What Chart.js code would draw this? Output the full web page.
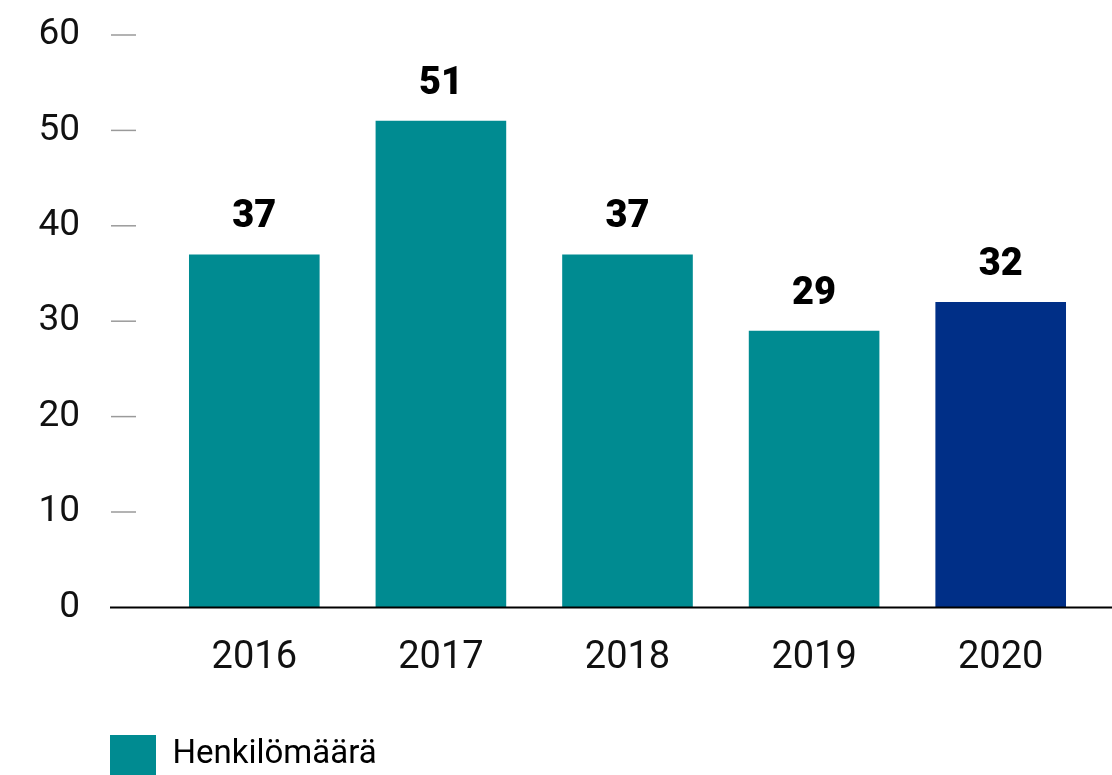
<!DOCTYPE html>
<html>
<head>
<meta charset="utf-8">
<script src="https://cdn.jsdelivr.net/npm/chart.js@4"></script>
<style>
  html, body { margin: 0; padding: 0; background: #fff; }
  #wrap { width: 1112px; height: 775px; }
</style>
</head>
<body>
<div id="wrap"><canvas id="grafico"></canvas></div>
<script>
const vuodet = ['2016', '2017', '2018', '2019', '2020'];
const henkilot = [37, 51, 37, 29, 32];
const sarjanNimi = 'Henkilömäärä';
const yTicks = [0, 10, 20, 30, 40, 50, 60];

const teal = '#008b91';
const navy = '#002f87';

// arvot palkkien yläpuolelle
const arvoPlugin = {
  id: 'arvot',
  afterDatasetsDraw(chart) {
    const ctx = chart.ctx;
    const meta = chart.getDatasetMeta(0);
    ctx.save();
    ctx.font = '900 38px Roboto';
    ctx.fillStyle = '#000';
    ctx.textAlign = 'center';
    ctx.textBaseline = 'alphabetic';
    meta.data.forEach((bar, i) => {
      ctx.fillText(henkilot[i], bar.x, bar.y - 27);
    });
    ctx.restore();
  }
};

// lyhyet viivat y-akselin arvoille ja perusviiva
const akseliPlugin = {
  id: 'akseli',
  afterDraw(chart) {
    const ctx = chart.ctx;
    const y = chart.scales.y;
    const area = chart.chartArea;
    ctx.save();
    ctx.strokeStyle = '#9a9a9a';
    ctx.lineWidth = 1.5;
    yTicks.forEach(v => {
      if (v === 0) return;
      const py = y.getPixelForValue(v);
      ctx.beginPath();
      ctx.moveTo(area.left - 50, py);
      ctx.lineTo(area.left - 25, py);
      ctx.stroke();
    });
    const y0 = y.getPixelForValue(0);
    ctx.strokeStyle = '#000';
    ctx.lineWidth = 2;
    ctx.beginPath();
    ctx.moveTo(area.left - 51, y0);
    ctx.lineTo(chart.width, y0);
    ctx.stroke();
    ctx.restore();
  }
};

// y-akselin tekstit oikealle tasattuna vasemmalle puolelle
const yFontSize = 37;
const yLabelRight = -81;

new Chart(document.getElementById('grafico'), {
  type: 'bar',
  data: {
    labels: vuodet,
    datasets: [{
      label: sarjanNimi,
      data: henkilot,
      backgroundColor: [teal, teal, teal, teal, navy],
      categoryPercentage: 0.7,
      barPercentage: 1.0
    }]
  },
  options: {
    responsive: true,
    maintainAspectRatio: false,
    animation: false,
    layout: { padding: { top: 35, right: 18, left: 110, bottom: -10 } },
    plugins: {
      tooltip: { enabled: false },
      legend: {
        position: 'bottom',
        align: 'start',
        labels: {
          boxWidth: 46,
          boxHeight: 40,
          padding: 0,
          color: '#222',
          font: { family: 'Roboto', size: 33 },
          generateLabels: () => [{
            text: sarjanNimi,
            fillStyle: teal,
            strokeStyle: teal,
            lineWidth: 0,
            datasetIndex: 0
          }]
        }
      }
    },
    scales: {
      x: {
        grid: { display: false },
        border: { display: false },
        afterFit: s => { s.height += 34; },
        ticks: {
          color: '#111',
          font: { family: 'Roboto', size: 38 },
          padding: 20
        }
      },
      y: {
        min: 0,
        max: 60,
        grid: { display: false },
        border: { display: false },
        afterBuildTicks: s => { s.ticks = yTicks.map(v => ({ value: v })); },
        afterFit: s => { s.width = 51; },
        afterUpdate: s => {
          // mirror-tilassa x = right + padding + widest
          const ctx = s.ctx;
          ctx.save();
          ctx.font = yFontSize + 'px Roboto';
          const widest = Math.max(...yTicks.map(v => ctx.measureText(String(v)).width));
          ctx.restore();
          s.options.ticks.padding = yLabelRight - widest;
        },
        ticks: {
          color: '#111',
          font: { family: 'Roboto', size: yFontSize },
          mirror: true,
          crossAlign: 'far',
          padding: -120
        }
      }
    }
  },
  plugins: [arvoPlugin, akseliPlugin]
});
</script>
</body>
</html>
